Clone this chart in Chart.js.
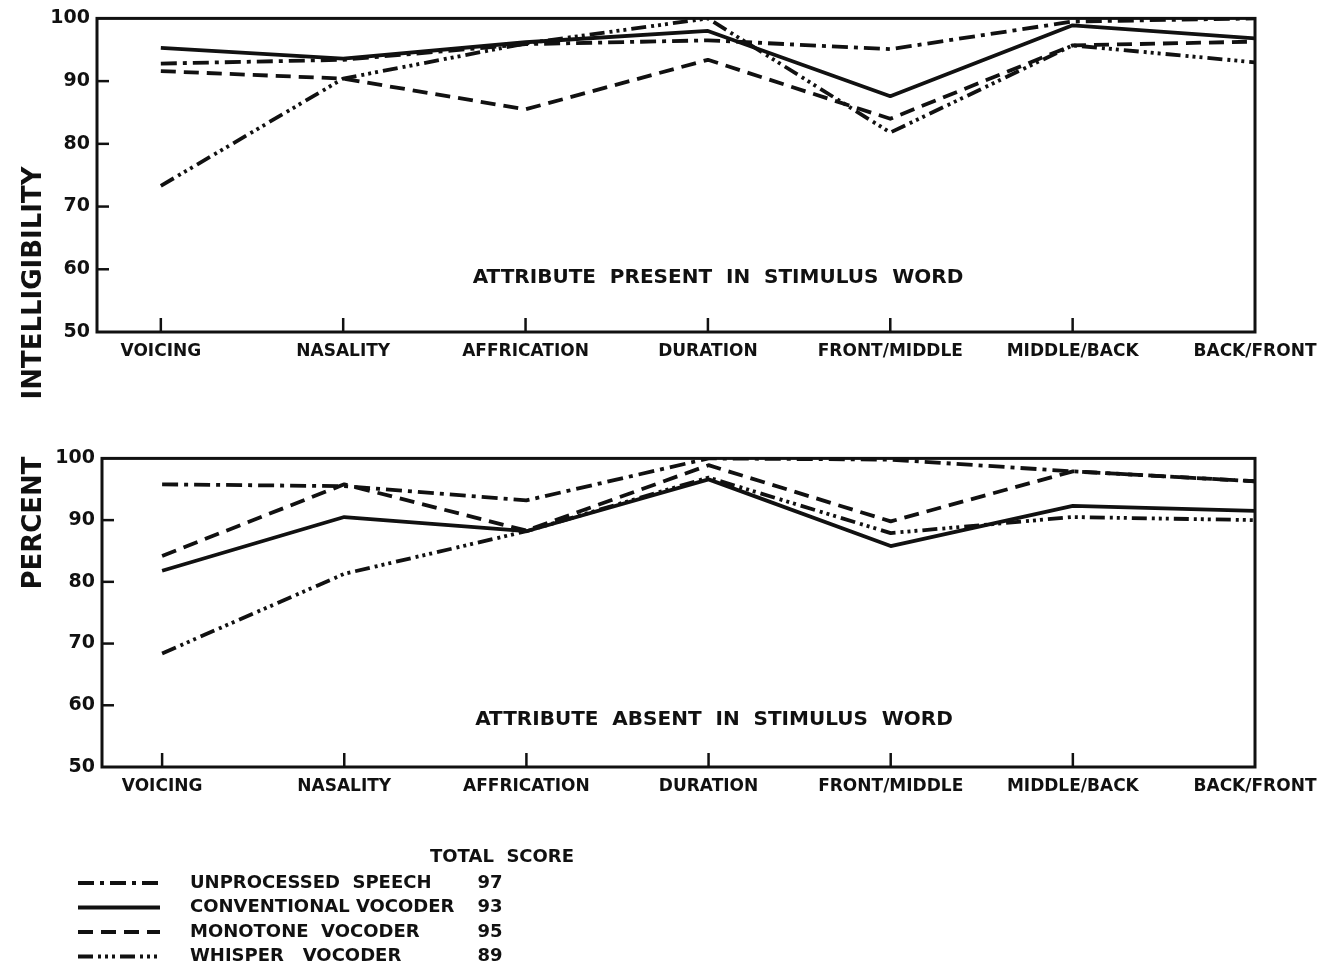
<!DOCTYPE html>
<html>
<head>
<meta charset="utf-8">
<script src="https://cdn.jsdelivr.net/npm/chart.js@4.4.1/dist/chart.umd.min.js"></script>
<style>
  html, body { margin: 0; padding: 0; background: #fff; width: 1339px; height: 969px; overflow: hidden; }
  canvas { position: absolute; left: 0; }
  #present { top: 0; }
  #absent { top: 440px; }
  .ytitle {
    position: absolute; font-family: "DejaVu Sans", sans-serif; font-weight: bold;
    font-size: 26px; color: #111; white-space: nowrap;
    transform: translate(-50%, -50%) rotate(-90deg);
  }
</style>
</head>
<body>
<canvas id="present" width="1339" height="390"></canvas>
<canvas id="absent" width="1339" height="529"></canvas>
<div class="ytitle" style="left:32px; top:283px;">INTELLIGIBILITY</div>
<div class="ytitle" style="left:32px; top:523px;">PERCENT</div>
<script>
// Consonant attributes along the horizontal axis
const categories = ['VOICING', 'NASALITY', 'AFFRICATION', 'DURATION', 'FRONT/MIDDLE', 'MIDDLE/BACK', 'BACK/FRONT'];
const yTicks = [50, 60, 70, 80, 90, 100];

// Percent intelligibility, attribute present in stimulus word
const presentUnprocessed  = [92.8, 93.4, 95.9, 96.5, 95.1, 99.5, 100];
const presentConventional = [95.3, 93.6, 96.2, 98.0, 87.6, 98.9, 96.8];
const presentMonotone     = [91.6, 90.4, 85.5, 93.4, 84.0, 95.7, 96.3];
const presentWhisper      = [73.3, 90.4, 96.0, 100, 81.8, 95.7, 93.0];

// Percent intelligibility, attribute absent in stimulus word
const absentUnprocessed  = [95.8, 95.5, 93.2, 100, 99.8, 97.9, 96.3];
const absentConventional = [81.8, 90.5, 88.2, 96.6, 85.8, 92.3, 91.5];
const absentMonotone     = [84.2, 95.8, 88.3, 98.9, 89.8, 97.9, 96.3];
const absentWhisper      = [68.4, 81.3, 88.2, 96.9, 87.9, 90.5, 90.0];

// Legend entries and total scores
const seriesNames = ['UNPROCESSED  SPEECH', 'CONVENTIONAL VOCODER', 'MONOTONE  VOCODER', 'WHISPER   VOCODER'];
const totalScores = [97, 93, 95, 89];

const INK = '#111';
const LINE_W = 3.8;
const dashes = [
  [16, 6, 4, 6],                 // dash-dot
  [],                            // solid
  [15, 8],                       // dashed
  [15, 5, 3, 4, 3, 4, 3, 5]      // dash-dot-dot-dot
];

function toPoints(vals) {
  return vals.map((v, i) => ({ x: i, y: v }));
}

function makeDatasets(series) {
  return series.map((vals, k) => ({
    label: seriesNames[k],
    data: toPoints(vals),
    borderColor: INK,
    borderWidth: LINE_W,
    borderDash: dashes[k],
    borderCapStyle: 'butt',
    borderJoinStyle: 'round',
    pointRadius: 0,
    tension: 0,
    fill: false
  }));
}

// Plot frame, inward tick marks, in-plot caption and the score key
function framePlugin(caption, captionX, captionY, legend) {
  return {
    id: 'frame',
    afterDatasetsDraw(chart) {
      const { ctx, chartArea: a, scales } = chart;
      ctx.save();
      ctx.strokeStyle = INK;
      ctx.lineWidth = 3;
      ctx.setLineDash([]);
      ctx.strokeRect(a.left, a.top, a.right - a.left, a.bottom - a.top);
      ctx.lineWidth = 2.5;
      // category ticks pointing up from the base
      for (let i = 0; i < categories.length - 1; i++) {
        const x = scales.x.getPixelForValue(i);
        ctx.beginPath();
        ctx.moveTo(x, a.bottom);
        ctx.lineTo(x, a.bottom - 14);
        ctx.stroke();
      }
      // value ticks pointing right from the left axis
      yTicks.slice(1, -1).forEach(v => {
        const y = scales.y.getPixelForValue(v);
        ctx.beginPath();
        ctx.moveTo(a.left, y);
        ctx.lineTo(a.left + 12, y);
        ctx.stroke();
      });
      ctx.fillStyle = INK;
      ctx.font = 'bold 20px "DejaVu Sans"';
      ctx.textAlign = 'center';
      ctx.textBaseline = 'middle';
      ctx.fillText(caption, captionX, captionY);
      ctx.restore();
    },
    afterDraw(chart) {
      if (!legend) return;
      const { ctx } = chart;
      ctx.save();
      ctx.fillStyle = INK;
      ctx.strokeStyle = INK;
      ctx.font = 'bold 18px "DejaVu Sans"';
      ctx.textBaseline = 'middle';
      ctx.textAlign = 'left';
      ctx.fillText('TOTAL  SCORE', legend.headX, legend.headY);
      seriesNames.forEach((name, k) => {
        const y = legend.y0 + k * legend.dy;
        ctx.lineWidth = 4;
        ctx.setLineDash(dashes[k]);
        ctx.beginPath();
        ctx.moveTo(legend.lineX0, y);
        ctx.lineTo(legend.lineX1, y);
        ctx.stroke();
        ctx.setLineDash([]);
        ctx.textAlign = 'left';
        ctx.fillText(name, legend.textX, y);
        ctx.textAlign = 'center';
        ctx.fillText(String(totalScores[k]), legend.scoreX, y);
      });
      ctx.restore();
    }
  };
}

function makeChart(id, series, opts) {
  return new Chart(document.getElementById(id), {
    type: 'line',
    data: { datasets: makeDatasets(series) },
    options: {
      responsive: false,
      animation: false,
      events: [],
      layout: { padding: { left: 0, top: opts.top, right: opts.right, bottom: opts.bottom } },
      plugins: { legend: { display: false }, tooltip: { enabled: false } },
      scales: {
        x: {
          type: 'linear',
          min: opts.xMin,
          max: categories.length - 1,
          afterBuildTicks: s => { s.ticks = categories.map((c, i) => ({ value: i })); },
          afterFit: s => { s.height = 48; },
          grid: { display: false, drawTicks: false },
          border: { display: false },
          ticks: {
            padding: 9,
            color: INK,
            maxRotation: 0,
            autoSkip: false,
            font: { family: 'DejaVu Sans', weight: 'bold', size: 17 },
            callback: v => categories[v]
          }
        },
        y: {
          min: yTicks[0],
          max: yTicks[yTicks.length - 1],
          afterBuildTicks: s => { s.ticks = yTicks.map(v => ({ value: v })); },
          afterFit: s => { s.width = opts.yWidth; },
          grid: { display: false, drawTicks: false },
          border: { display: false },
          ticks: {
            padding: 7,
            color: INK,
            font: { family: 'DejaVu Sans', weight: 'bold', size: 19 }
          }
        }
      }
    },
    plugins: [framePlugin(opts.caption, opts.capX, opts.capY, opts.legend)]
  });
}

makeChart('present',
  [presentUnprocessed, presentConventional, presentMonotone, presentWhisper],
  { top: 16, right: 84, bottom: 10, yWidth: 97, xMin: -0.35,
    caption: 'ATTRIBUTE  PRESENT  IN  STIMULUS  WORD', capX: 718, capY: 278 });

makeChart('absent',
  [absentUnprocessed, absentConventional, absentMonotone, absentWhisper],
  { top: 17, right: 84, bottom: 154, yWidth: 102, xMin: -0.33,
    caption: 'ATTRIBUTE  ABSENT  IN  STIMULUS  WORD', capX: 714, capY: 280,
    legend: { headX: 430, headY: 417, y0: 443, dy: 24.5, lineX0: 78, lineX1: 160, textX: 190, scoreX: 490 } });
</script>
</body>
</html>
